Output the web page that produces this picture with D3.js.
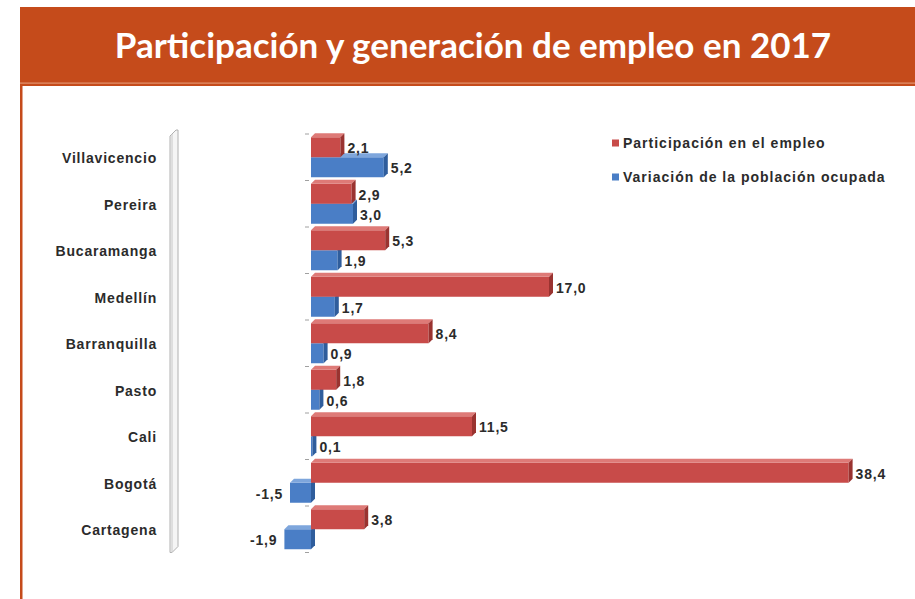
<!DOCTYPE html>
<html>
<head>
<meta charset="utf-8">
<script src="https://cdn.jsdelivr.net/npm/d3@7"></script>
<style>
  body { margin: 0; background: #fff; }
  svg { display: block; }
</style>
</head>
<body>
<div id="container"></div>
<script>
/* DATA */
const categories = ["Villavicencio", "Pereira", "Bucaramanga", "Medellín", "Barranquilla", "Pasto", "Cali", "Bogotá", "Cartagena"];
const participacion = [2.1, 2.9, 5.3, 17.0, 8.4, 1.8, 11.5, 38.4, 3.8];
const variacion = [5.2, 3.0, 1.9, 1.7, 0.9, 0.6, 0.1, -1.5, -1.9];
const seriesNames = ["Participación en el empleo", "Variación de la población ocupada"];
const title = "Participación y generación de empleo en 2017";

/* CONSTANTS */
const width = 915, height = 599, depth = 4;
const colors = [
  { front: "#c84b49", top: "#de7a77", side: "#9a3330" },
  { front: "#4a7ec6", top: "#7ea6dc", side: "#2f5d9c" }
];
const fmt = v => d3.format(".1f")(v).replace(".", ",").replace("−", "-");
const labelFont = "'Liberation Sans', Arial, sans-serif";

const svg = d3.select("#container").append("svg")
  .attr("width", width)
  .attr("height", height);

/* FRAME */
svg.append("rect").attr("x", 20).attr("y", 7).attr("width", width - 20).attr("height", 79).attr("fill", "#c54b1b");
svg.append("rect").attr("x", 20).attr("y", 82.5).attr("width", width - 20).attr("height", 1.2).attr("fill", "#e39470");
svg.append("rect").attr("x", 20).attr("y", 86).attr("width", 2.5).attr("height", height - 86).attr("fill", "#c54b1b");

svg.append("text")
  .attr("x", 473).attr("y", 58)
  .attr("text-anchor", "middle")
  .attr("fill", "#fff")
  .style("font-family", "Lato, 'Open Sans', sans-serif")
  .style("font-weight", "bold")
  .style("font-size", "35px")
  .text(title);

/* SCALES */
const yScale = d3.scaleBand()
  .domain(categories)
  .range([134, 552.5])
  .paddingInner(0.14)
  .paddingOuter(0.07);

const ySub = d3.scaleBand()
  .domain([0, 1])
  .range([0, yScale.bandwidth()]);

const xScale = d3.scaleLinear()
  .domain([-2, 38.4])
  .range([283, 848.6]);

const x0 = xScale(0);
const step = yScale.step();
const [r0, r1] = yScale.range();

/* LEFT WALL */
svg.append("polygon")
  .attr("points", [[170, r0 + 2], [176, r0 - 4], [178, r0 - 4], [178, r1 - 6], [172, r1], [170, r1]].map(p => p.join(",")).join(" "))
  .attr("fill", "#f5f5f5")
  .attr("stroke", "#b0b0b0")
  .attr("stroke-width", 1);
svg.append("line")
  .attr("x1", 172).attr("x2", 172).attr("y1", r0).attr("y2", r1)
  .attr("stroke", "#c8c8c8");

/* CATEGORY LABELS */
svg.append("g").selectAll("text")
  .data(categories)
  .join("text")
  .attr("x", 157)
  .attr("y", d => yScale(d) + yScale.bandwidth() / 2 + 1)
  .attr("dy", "0.35em")
  .attr("text-anchor", "end")
  .attr("fill", "#2b2b2b")
  .style("font-family", labelFont)
  .style("font-weight", "bold")
  .style("font-size", "14px")
  .style("letter-spacing", "0.8px")
  .text(d => d);

/* TICKS AT ZERO */
svg.append("g").selectAll("line")
  .data(d3.range(categories.length + 1))
  .join("line")
  .attr("x1", x0 - 6).attr("x2", x0 - 2)
  .attr("y1", i => r0 + i * step)
  .attr("y2", i => r0 + i * step)
  .attr("stroke", "#a0a0a0");

/* BARS */
const bars = [];
categories.forEach((c, i) => {
  bars.push({ cat: c, s: 1, v: variacion[i] });
  bars.push({ cat: c, s: 0, v: participacion[i] });
});

const g = svg.append("g").selectAll("g")
  .data(bars)
  .join("g");

g.each(function(d) {
  const sel = d3.select(this);
  const y = yScale(d.cat) + ySub(d.s);
  const h = ySub.bandwidth();
  const a = Math.min(xScale(d.v), x0);
  const b = Math.max(xScale(d.v), x0);
  const col = colors[d.s];
  sel.append("rect")
    .attr("x", a).attr("y", y).attr("width", b - a).attr("height", h)
    .attr("fill", col.front);
  sel.append("polygon")
    .attr("points", [[a, y], [a + depth, y - depth], [b + depth, y - depth], [b, y]].map(p => p.join(",")).join(" "))
    .attr("fill", col.top);
  sel.append("polygon")
    .attr("points", [[b, y], [b + depth, y - depth], [b + depth, y + h - depth], [b, y + h]].map(p => p.join(",")).join(" "))
    .attr("fill", col.side);
});

/* VALUE LABELS */
svg.append("g").selectAll("text")
  .data(bars)
  .join("text")
  .attr("x", d => d.v >= 0 ? xScale(d.v) + depth + 3 : xScale(d.v) - 7)
  .attr("y", d => yScale(d.cat) + ySub(d.s) + ySub.bandwidth() / 2 + 1)
  .attr("dy", "0.35em")
  .attr("text-anchor", d => d.v >= 0 ? "start" : "end")
  .attr("fill", "#2b2b2b")
  .style("font-family", labelFont)
  .style("font-weight", "bold")
  .style("font-size", "14px")
  .style("letter-spacing", "0.8px")
  .text(d => fmt(d.v));

/* LEGEND */
const legend = svg.append("g").selectAll("g")
  .data(seriesNames)
  .join("g")
  .attr("transform", (d, i) => `translate(612, ${143 + i * 34})`);

legend.append("rect")
  .attr("x", 0).attr("y", -3.5).attr("width", 7).attr("height", 7)
  .attr("fill", (d, i) => colors[i].front);

legend.append("text")
  .attr("x", 11)
  .attr("dy", "0.35em")
  .attr("fill", "#2b2b2b")
  .style("font-family", labelFont)
  .style("font-weight", "bold")
  .style("font-size", "14px")
  .style("letter-spacing", "1px")
  .text(d => d);
</script>
</body>
</html>
